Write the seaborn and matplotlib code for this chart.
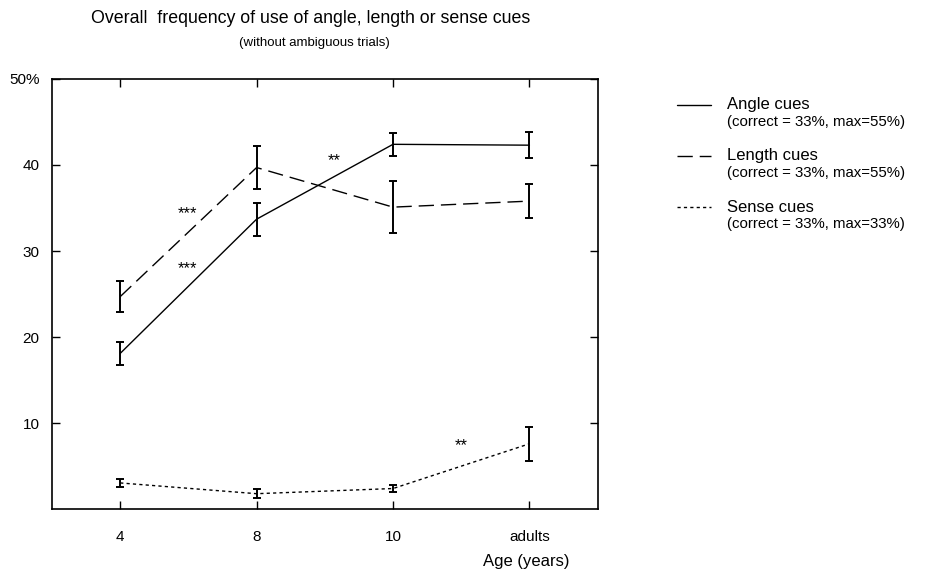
import numpy as np
import pandas as pd
import seaborn as sns
import matplotlib.pyplot as plt
from matplotlib.lines import Line2D

# values
ages = ['4', '8', '10', 'adults']
angle_mean = [18.1, 33.7, 42.4, 42.3]
angle_err = [1.3, 1.9, 1.35, 1.5]
length_mean = [24.7, 39.7, 35.1, 35.8]
length_err = [1.8, 2.5, 3.0, 2.0]
sense_mean = [3.05, 1.8, 2.4, 7.6]
sense_err = [0.5, 0.55, 0.45, 2.0]

series_names = ['Angle cues', 'Length cues', 'Sense cues']
series_notes = ['(correct = 33%, max=55%)', '(correct = 33%, max=55%)', '(correct = 33%, max=33%)']

# significance stars: (x position, y value, label)
stars = [(0.49, 34.3, '***'), (0.49, 27.9, '***'), (1.57, 40.5, '**'), (2.5, 7.4, '**')]

y_ticks = [10, 20, 30, 40, 50]
y_ticklabels = ['10', '20', '30', '40', '50%']


def build_frame():
    rows = []
    for name, means, errs in zip(series_names,
                                 [angle_mean, length_mean, sense_mean],
                                 [angle_err, length_err, sense_err]):
        for i, (m, e) in enumerate(zip(means, errs)):
            rows.append({'pos': i, 'age': ages[i], 'cue': name, 'mean': m, 'err': e})
    return pd.DataFrame(rows)


def main():
    sns.set_theme(style='ticks')
    plt.rcParams['font.family'] = ['Liberation Sans', 'DejaVu Sans']
    plt.rcParams['text.color'] = 'black'

    df = build_frame()
    dashes = {'Angle cues': '', 'Length cues': (11, 5), 'Sense cues': (2.3, 2.3)}

    fig = plt.figure(figsize=(9.28, 5.76), dpi=100)
    ax = fig.add_axes([0.056, 0.116, 0.588, 0.747])

    sns.lineplot(data=df, x='pos', y='mean', style='cue', dashes=dashes,
                 color='black', linewidth=1.0, legend=False, ax=ax)
    for name in series_names:
        sub = df[df['cue'] == name]
        ax.errorbar(sub['pos'], sub['mean'], yerr=sub['err'], fmt='none',
                    ecolor='black', elinewidth=1.4, capsize=3, capthick=1.4)

    for x, y, lab in stars:
        ax.text(x, y, lab, ha='center', va='center', fontsize=12)

    ax.set_xlim(-0.5, 3.5)
    ax.set_ylim(0, 50)
    ax.set_xticks(range(len(ages)))
    ax.set_xticklabels(ages)
    ax.set_yticks(y_ticks)
    ax.set_yticklabels(y_ticklabels)
    ax.tick_params(direction='in', top=True, right=True, length=6, width=1,
                   labelsize=11, colors='black')
    ax.tick_params(axis='x', pad=15)
    ax.tick_params(axis='y', pad=9)
    for sp in ax.spines.values():
        sp.set_linewidth(1.2)
        sp.set_color('black')
    ax.set_xlabel('')
    ax.set_ylabel('')

    fig.text(0.335, 0.968, 'Overall  frequency of use of angle, length or sense cues',
             ha='center', va='center', fontsize=12.8)
    fig.text(0.339, 0.925, '(without ambiguous trials)', ha='center', va='center', fontsize=9.5)
    fig.text(0.567, 0.026, 'Age (years)', ha='center', va='center', fontsize=12)

    # legend drawn by hand, the way the original lays it out
    line_styles = ['-', (0, (11, 5)), (0, (2.3, 2.3))]
    for i, name in enumerate(series_names):
        y_main = 1 - (105 + 51 * i) / 576
        y_note = 1 - (122 + 51 * i) / 576
        fig.add_artist(Line2D([0.729, 0.766], [y_main, y_main], color='black',
                              linewidth=1.0, linestyle=line_styles[i]))
        fig.text(0.783, y_main, name, ha='left', va='center', fontsize=12)
        fig.text(0.783, y_note, series_notes[i], ha='left', va='center', fontsize=10.8)

    fig.savefig('out.png', dpi=100, facecolor='white')


if __name__ == '__main__':
    main()
